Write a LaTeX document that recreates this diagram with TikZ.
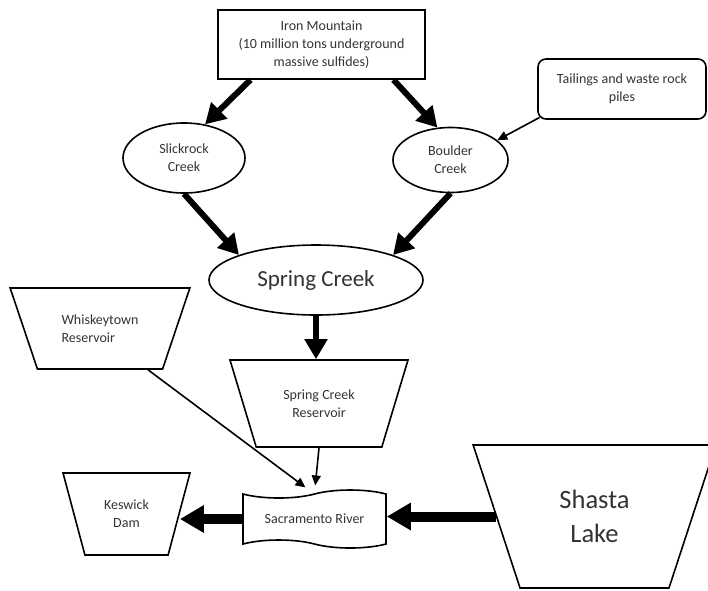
\documentclass[tikz,border=0pt]{standalone}
\usepackage{fontspec}
\setmainfont{Carlito}
\usetikzlibrary{shapes.geometric, shapes.symbols, arrows.meta, calc}

\begin{document}
\begin{tikzpicture}[x=1pt, y=-1pt,
  every node/.style={draw, line width=1.6pt, text=black!80, align=center, inner sep=2pt},
  small/.style={font=\fontsize{14}{18}\selectfont},
  creek/.style={ellipse, small},
  res/.style={trapezium, shape border rotate=180, trapezium stretches=true, small},
  bigarrow/.style={line width=10pt, -{Triangle[length=24pt, width=26pt]}},
  midarrow/.style={line width=6pt, -{Triangle[length=20pt, width=22pt]}},
  thinarrow/.style={line width=1.6pt, -{Triangle[length=10pt, width=9pt]}}]
\clip (0,0) rectangle (708,590);
\node[small, minimum width=207pt, minimum height=69pt] (im) at (321.5,44.5) {Iron Mountain\\(10 million tons underground\\massive sulfides)};
\node[small, rounded corners=8pt, minimum width=168pt, minimum height=60pt] (tw) at (622,89) {Tailings and waste rock\\piles};
\node[creek, minimum width=122pt, minimum height=70pt] (sk) at (184,158) {Slickrock\\Creek};
\node[creek, minimum width=115pt, minimum height=65pt] (bc) at (450.5,160) {Boulder\\Creek};
\node[ellipse, minimum width=214pt, minimum height=70pt, font=\fontsize{23}{28}\selectfont] (sp) at (316,280) {Spring Creek};
\node[res, trapezium angle=61, minimum width=180pt, minimum height=81pt, align=left] (wt) at (100,328.5) {Whiskeytown\\Reservoir};
\node[res, trapezium angle=63.7, minimum width=178pt, minimum height=87pt] (scr) at (319,403.5) {Spring Creek\\Reservoir};
\node[res, trapezium angle=68, minimum width=127pt, minimum height=82pt] (kd) at (126.5,514) {Keswick\\Dam};
\node[res, trapezium angle=67.6, minimum width=243pt, minimum height=143pt, font=\fontsize{26.5}{34}\selectfont] (sl) at (594.5,516.5) {Shasta\\Lake};
\node[small, tape, tape bend top=in and out, tape bend bottom=out and in, tape bend height=8pt, minimum width=143pt, minimum height=58pt] (sac) at (314.5,519) {Sacramento River};
\draw[midarrow] ([xshift=-71pt]im.south) -- (sk.58);
\draw[midarrow] ([xshift=72pt]im.south) -- (bc.112);
\draw[thinarrow] ([shift={(2.3pt,2.3pt)}]tw.south west) -- (bc.23);
\draw[midarrow] (sk.south) -- (sp.162);
\draw[midarrow] (bc.south) -- (sp.18);
\draw[midarrow] (sp.south) -- (sp.south |- scr.north);
\draw[thinarrow] ($(wt.south)+(48,0)$) -- ($(sac.north)+(-9,-6)$);
\draw[thinarrow, shorten >=8pt] (scr.south) -- (sac.north);
\draw[bigarrow] (sac.west) -- (sac.west -| kd.east);
\draw[bigarrow] (sl.west) -- (sl.west -| sac.east);
\end{tikzpicture}
\end{document}
